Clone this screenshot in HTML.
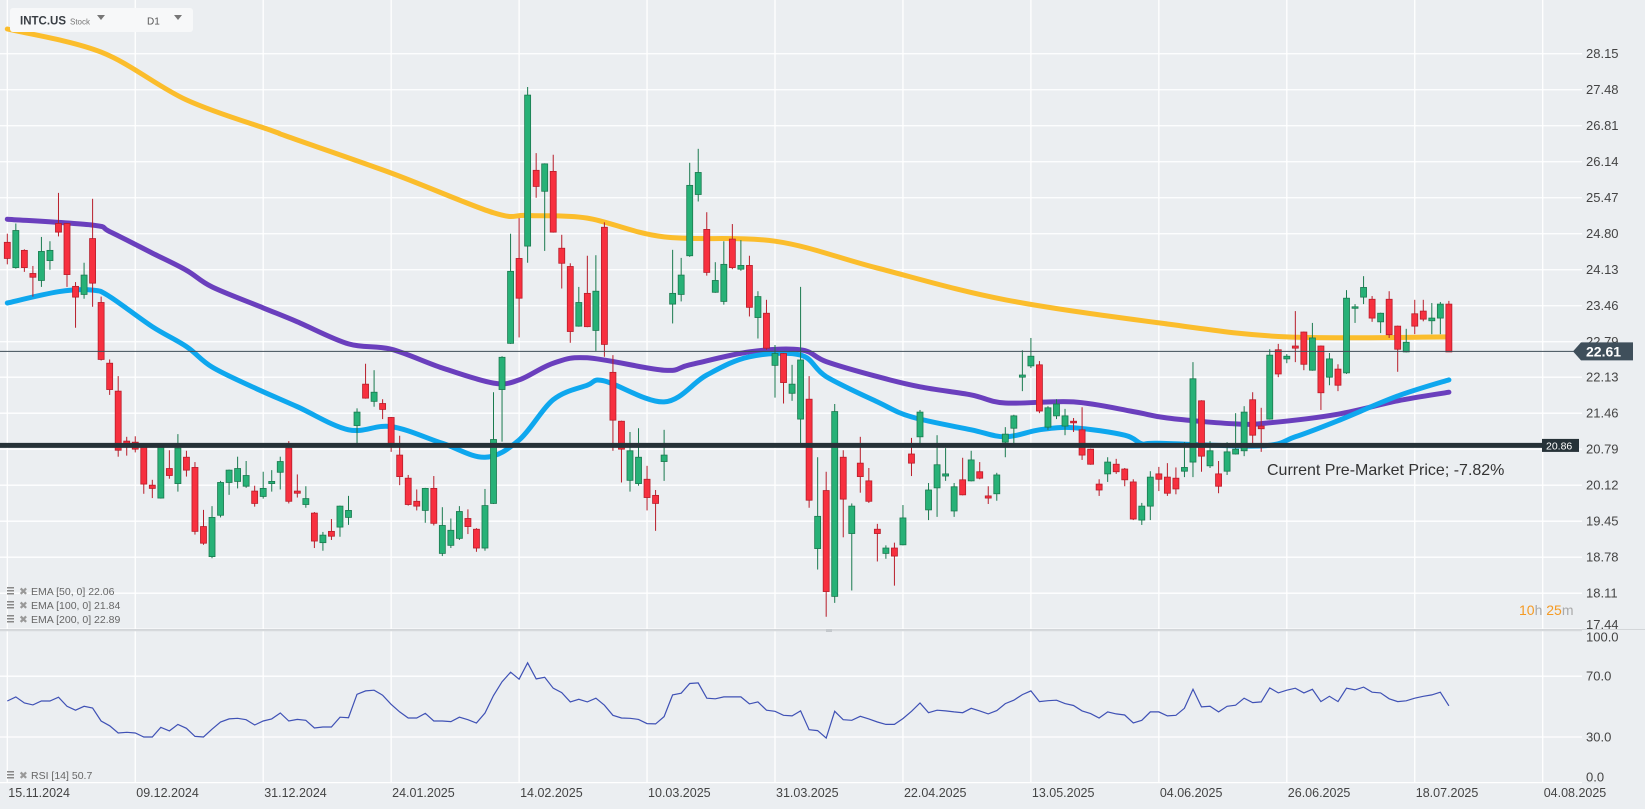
<!DOCTYPE html>
<html><head><meta charset="utf-8"><style>
html,body{margin:0;padding:0;background:#ebeef1;}
svg{display:block;font-family:"Liberation Sans",sans-serif;}
</style></head><body>
<svg id="chart" width="1645" height="809" viewBox="0 0 1645 809" xmlns="http://www.w3.org/2000/svg">
<rect x="0" y="0" width="1645" height="809" fill="#ebeef1"/>
<g id="grid"></g>
<g id="emas"></g>
<g id="candles"></g>
<g id="levels"></g>
<g id="rsi"></g>
<g id="axes"></g>
<g>
<rect x="10" y="8" width="183" height="24" rx="3" fill="#f7f8f9"/>
<text x="20" y="24.5" font-size="11.5" font-weight="bold" fill="#3a3f45">INTC.US</text>
<text x="70" y="24.5" font-size="8" fill="#777">Stock</text>
<path d="M97 15 L105 15 L101 20 Z" fill="#777"/>
<text x="147" y="24.5" font-size="10" fill="#555">D1</text>
<path d="M174 15 L182 15 L178 20 Z" fill="#777"/>
</g>
<g font-size="10.5" fill="#666">
<g><rect x="7" y="587" width="7" height="1.5" fill="#888"/><rect x="7" y="590" width="7" height="1.5" fill="#888"/><rect x="7" y="593" width="7" height="1.5" fill="#888"/><text x="19" y="595" fill="#999">✖</text><text x="31" y="595">EMA [50,  0] 22.06</text></g>
<g><rect x="7" y="601" width="7" height="1.5" fill="#888"/><rect x="7" y="604" width="7" height="1.5" fill="#888"/><rect x="7" y="607" width="7" height="1.5" fill="#888"/><text x="19" y="609" fill="#999">✖</text><text x="31" y="609">EMA [100,  0] 21.84</text></g>
<g><rect x="7" y="615" width="7" height="1.5" fill="#888"/><rect x="7" y="618" width="7" height="1.5" fill="#888"/><rect x="7" y="621" width="7" height="1.5" fill="#888"/><text x="19" y="623" fill="#999">✖</text><text x="31" y="623">EMA [200,  0] 22.89</text></g>
<g><rect x="7" y="771" width="7" height="1.5" fill="#888"/><rect x="7" y="774" width="7" height="1.5" fill="#888"/><rect x="7" y="777" width="7" height="1.5" fill="#888"/><text x="19" y="779" fill="#999">✖</text><text x="31" y="779">RSI [14] 50.7</text></g>
</g>
<text x="1267" y="475" font-size="16" fill="#333">Current Pre-Market Price; -7.82%</text>
<text x="1519" y="615" font-size="14"><tspan fill="#f59a23">10</tspan><tspan fill="#aaa">h </tspan><tspan fill="#f59a23">25</tspan><tspan fill="#aaa">m</tspan></text>
</svg>
<script>
const NS="http://www.w3.org/2000/svg";
// ---- data ----
const candles=[
[24.64,24.80,24.23,24.34],[24.17,24.99,24.15,24.86],[24.49,24.51,24.09,24.17],[24.06,24.20,23.63,23.99],[23.93,24.74,23.81,24.47],
[24.30,24.66,24.13,24.49],[24.99,25.56,24.75,24.83],[24.99,25.00,23.81,24.04],[23.82,23.90,23.05,23.62],[23.67,24.26,23.59,24.03],
[24.71,25.45,23.44,23.88],[23.52,23.63,22.44,22.46],[22.39,22.46,21.80,21.90],[21.87,22.15,20.65,20.77],[20.94,21.02,20.67,20.84],
[20.92,21.03,20.73,20.79],[20.84,20.85,19.96,20.14],[20.12,20.22,19.88,20.06],[19.88,20.85,19.87,20.84],[20.43,20.77,20.24,20.30],
[20.15,21.07,20.00,20.81],[20.64,20.76,20.28,20.40],[20.45,20.55,19.20,19.26],[19.35,19.66,19.01,19.04],[18.79,19.73,18.76,19.52],
[19.56,20.20,19.52,20.17],[20.17,20.41,19.94,20.40],[20.19,20.65,20.06,20.43],[20.10,20.57,20.07,20.30],[20.01,20.11,19.72,19.78],
[19.91,20.37,19.87,20.06],[20.15,20.40,20.00,20.19],[20.36,20.65,20.04,20.56],[20.81,20.94,19.78,19.82],[20.01,20.32,19.89,19.97],
[19.76,20.10,19.70,19.87],[19.60,19.62,18.95,19.08],[19.05,19.25,18.90,19.19],[19.26,19.49,19.10,19.17],[19.34,19.74,19.16,19.73],
[19.52,19.92,19.38,19.65],[21.23,21.55,20.87,21.48],[22.00,22.38,21.73,21.74],[21.68,22.26,21.58,21.85],[21.64,21.72,21.35,21.53],
[21.38,21.39,20.74,20.87],[20.68,21.04,20.12,20.28],[20.25,20.31,19.74,19.76],[19.82,20.04,19.65,19.73],[19.65,20.07,19.42,20.06],
[20.06,20.29,19.37,19.41],[18.85,19.71,18.80,19.37],[19.00,19.50,18.95,19.28],[19.13,19.73,19.10,19.63],[19.50,19.67,19.21,19.35],
[19.30,19.32,18.88,18.95],[18.95,20.05,18.90,19.74],[19.78,21.85,19.77,20.97],[21.90,22.52,20.93,22.50],[22.76,24.80,22.75,24.10],
[24.34,25.09,22.87,23.60],[24.57,27.53,24.26,27.38],[25.98,26.30,25.47,25.68],[25.59,26.11,24.48,26.10],[25.96,26.27,24.82,24.83],
[24.53,24.78,23.78,24.25],[24.19,24.25,22.77,22.98],[23.08,23.81,23.07,23.52],[23.69,24.39,23.06,23.07],[23.00,24.40,22.62,23.73],
[24.92,25.01,22.51,22.74],[22.22,22.54,20.76,21.33],[21.31,21.32,20.17,20.79],[20.21,21.11,20.00,20.76],[20.15,21.18,20.11,20.64],
[20.23,20.48,19.65,19.89],[19.93,20.03,19.27,19.78],[20.56,21.15,20.20,20.68],[23.49,24.50,23.13,23.69],[23.67,24.35,23.54,24.03],
[24.39,26.12,24.37,25.70],[25.53,26.38,25.40,25.94],[24.88,25.20,24.02,24.08],[23.71,24.27,23.70,23.93],[23.54,24.66,23.48,24.23],
[24.70,24.98,24.14,24.17],[24.14,24.68,24.11,24.21],[24.21,24.39,23.26,23.43],[23.24,23.73,22.85,23.63],[23.32,23.57,22.64,22.67],
[22.35,22.73,21.75,22.57],[22.57,22.58,21.64,22.03],[21.83,22.36,21.69,22.00],[21.35,23.81,20.84,22.45],[21.72,22.15,19.70,19.84],
[18.94,20.64,18.55,19.54],[20.02,20.37,17.67,18.14],[18.05,21.63,17.93,21.49],[20.64,20.77,19.15,19.86],[19.22,19.78,18.16,19.73],
[20.53,21.02,19.98,20.28],[20.20,20.44,19.79,19.82],[19.30,19.40,18.70,19.22],[18.85,19.00,18.75,18.95],[18.95,19.05,18.25,18.80],
[19.01,19.75,19.00,19.51],[20.70,21.00,20.29,20.53],[21.02,21.52,20.87,21.48],[19.66,20.16,19.47,20.03],[20.07,21.05,19.53,20.50],
[20.29,20.81,20.20,20.33],[19.64,20.16,19.53,20.09],[20.22,20.63,19.93,19.94],[20.20,20.76,20.19,20.59],[20.37,20.55,20.23,20.25],
[19.92,20.10,19.77,19.88],[19.96,20.35,19.83,20.31],[20.92,21.20,20.64,21.07],[21.18,21.43,20.89,21.41],[22.13,22.63,21.87,22.17],
[22.34,22.86,22.30,22.52],[22.36,22.43,21.46,21.50],[21.20,21.59,21.15,21.56],[21.41,21.72,21.35,21.63],[21.22,21.54,21.05,21.41],
[21.31,21.37,21.11,21.28],[21.15,21.57,20.59,20.68],[20.79,20.80,20.50,20.51],[20.14,20.23,19.92,20.03],[20.33,20.64,20.18,20.55],
[20.51,20.61,20.33,20.37],[20.42,20.44,20.10,20.22],[20.18,20.23,19.47,19.49],[19.47,19.79,19.38,19.73],[19.73,20.38,19.47,20.27],
[20.33,20.46,20.01,20.23],[20.27,20.53,19.92,19.97],[20.25,20.45,19.95,20.05],[20.38,20.92,20.27,20.45],[20.55,22.41,20.27,22.10],
[21.69,21.70,20.37,20.66],[20.48,20.94,20.44,20.76],[20.33,20.57,19.97,20.10],[20.38,20.92,20.31,20.74],[20.70,21.46,20.69,20.79],
[20.76,21.59,20.66,21.48],[21.71,21.85,20.89,21.05],[21.22,21.56,20.74,21.17],[21.35,22.65,21.34,22.54],[22.64,22.75,22.13,22.19],
[22.47,22.56,22.39,22.52],[22.71,23.36,22.41,22.67],[22.97,22.98,22.26,22.37],[22.26,23.14,22.25,22.86],[22.71,22.72,21.52,21.84],
[22.13,22.58,21.98,22.47],[22.28,22.37,21.87,21.98],[22.21,23.75,22.19,23.60],[23.42,23.49,23.14,23.44],[23.62,24.01,23.49,23.80],
[23.58,23.64,23.16,23.23],[23.16,23.33,22.95,23.32],[23.58,23.73,22.86,22.92],[23.08,23.09,22.23,22.65],[22.60,23.03,22.59,22.78],
[23.31,23.57,22.93,23.08],[23.36,23.57,23.17,23.21],[23.18,23.51,22.93,23.23],[23.23,23.53,22.93,23.49],[23.49,23.55,22.60,22.60]
];
const ema50Idx=[0,6,10,12,17,21,24,29,34,40,45,51,56,60,64,68,70,77,82,87,93,96,102,106,113,117,121,125,131,133,135,147,151,156,163,169];
const ema50Vals=[23.51,23.72,23.75,23.63,23.07,22.70,22.32,21.93,21.58,21.15,21.21,20.90,20.64,20.96,21.71,21.98,22.06,21.67,22.17,22.51,22.54,22.14,21.67,21.39,21.15,21.02,21.15,21.19,21.05,20.89,20.90,20.85,21.02,21.32,21.78,22.08];
const ema100Idx=[0,10,12,17,21,24,30,34,40,45,51,57,60,64,68,77,80,87,93,96,102,107,113,117,125,132,136,144,148,156,163,169];
const ema100Vals=[25.07,24.96,24.84,24.44,24.12,23.81,23.42,23.16,22.75,22.65,22.30,22.02,22.08,22.39,22.49,22.26,22.36,22.60,22.64,22.42,22.14,21.95,21.80,21.65,21.67,21.49,21.37,21.26,21.28,21.44,21.69,21.85];
const ema200Idx=[0,11,21,31,33,45,57,61,68,77,90,102,117,136,150,169];
const ema200Vals=[28.61,28.18,27.29,26.72,26.60,25.93,25.19,25.14,25.09,24.74,24.66,24.16,23.57,23.12,22.88,22.88];
const rsiVals=[53.7,56.4,52.4,51.1,53.7,53.7,56.2,50.2,47.6,50.2,49.1,40.5,37.4,32.6,33.1,32.6,30.0,30.0,36.4,34.0,
38.3,35.7,30.4,30.0,35.1,39.9,41.9,42.3,41.4,37.9,40.5,41.9,45.8,40.5,41.6,41.0,35.9,36.6,36.6,43.0,
42.7,58.1,60.3,60.8,57.5,51.5,46.5,42.5,42.5,45.6,40.5,40.5,40.1,43.0,41.4,39.2,45.8,57.3,66.3,72.6,
68.0,78.8,68.2,69.3,62.1,59.2,53.1,54.8,53.1,55.5,50.9,44.3,42.5,42.3,41.6,38.8,38.6,43.4,57.7,58.8,
65.2,65.6,55.5,55.1,56.4,56.4,56.4,51.8,53.1,47.6,46.9,44.3,43.9,47.2,34.8,34.2,29.3,46.9,41.4,41.0,
43.6,41.9,39.9,38.3,38.3,42.1,46.9,52.4,46.0,47.6,47.2,46.5,46.0,48.9,47.2,45.2,47.4,52.0,54.2,57.9,
60.3,53.3,53.9,54.2,52.0,50.7,47.2,45.4,42.5,46.5,45.2,44.5,39.3,41.0,46.5,46.5,43.9,44.3,48.9,61.4,
49.8,50.2,46.5,50.2,50.9,55.5,52.6,53.1,62.3,59.0,60.8,62.1,59.0,61.4,53.3,56.8,53.3,62.1,61.0,62.8,
59.5,59.0,55.1,53.3,53.8,55.5,56.8,57.7,59.5,50.5];
const priceTicks=["28.15","27.48","26.81","26.14","25.47","24.80","24.13","23.46","22.79","22.13","21.46","20.79","20.12","19.45","18.78","18.11","17.44"];
const rsiTicks=[100,70,30,0];
const dateLabels=["15.11.2024","09.12.2024","31.12.2024","24.01.2025","14.02.2025","10.03.2025","31.03.2025","22.04.2025","13.05.2025","04.06.2025","26.06.2025","18.07.2025","04.08.2025"];
const lastPrice=22.61;
const preMarketPrice=20.86;
// ---- scales ----
const xOf=i=>7.3+8.53*i;
const yOf=p=>(29.15-p)/0.018612;
const rsiY=v=>782.6-1.52*v;
function mk(tag,attrs,parent){const e=document.createElementNS(NS,tag);for(const k in attrs)e.setAttribute(k,attrs[k]);parent.appendChild(e);return e;}
const grid=document.getElementById('grid');
dateLabels.forEach((d,k)=>{const x=xOf(15*k);
 const l=mk('line',{x1:x,y1:0,x2:x,y2:783,stroke:'#ffffff','stroke-width':1.3},grid);
 
 
});
priceTicks.forEach(t=>{const y=yOf(parseFloat(t));
 const l=mk('line',{x1:0,y1:y,x2:1582,y2:y,stroke:'#ffffff','stroke-width':1.3},grid);
 
 
});
rsiTicks.forEach(v=>{const y=rsiY(v);
 const l=mk('line',{x1:0,y1:y,x2:1582,y2:y,stroke:v===100?'#d6d9dc':'#ffffff','stroke-width':1.3},grid);
 
 
});
const sep=mk('line',{x1:0,y1:629.5,x2:1645,y2:629.5,stroke:'#d3d6d9','stroke-width':1},grid);


// EMAs (smoothed through sampled values)
const emaG=document.getElementById('emas');
function emaPath(idx,vals,color,name){
 const pts=idx.map((i,k)=>[xOf(i),yOf(vals[k])]);
 let d='M'+pts[0][0].toFixed(1)+' '+pts[0][1].toFixed(1);
 for(let k=0;k<pts.length-1;k++){
  const p0=pts[Math.max(0,k-1)],p1=pts[k],p2=pts[k+1],p3=pts[Math.min(pts.length-1,k+2)];
  const c1=[p1[0]+(p2[0]-p0[0])/6,p1[1]+(p2[1]-p0[1])/6];
  const c2=[p2[0]-(p3[0]-p1[0])/6,p2[1]-(p3[1]-p1[1])/6];
  d+=`C${c1[0].toFixed(1)} ${c1[1].toFixed(1)} ${c2[0].toFixed(1)} ${c2[1].toFixed(1)} ${p2[0].toFixed(1)} ${p2[1].toFixed(1)}`;
 }
 const p=mk('path',{d:d,fill:'none',stroke:color,'stroke-width':5,'stroke-linejoin':'round','stroke-linecap':'round'},emaG);
 
 
}
emaPath(ema200Idx,ema200Vals,'#fbbd2c','ema200-line');
emaPath(ema100Idx,ema100Vals,'#6a3fbd','ema100-line');
emaPath(ema50Idx,ema50Vals,'#0ea7ee','ema50-line');
// candles
const cg=document.getElementById('candles');
candles.forEach((c,i)=>{
 const [o,h,l,cl]=c;const up=cl>=o;const x=xOf(i);
 const fill=up?'#27b177':'#f7303f';const st=up?'#1a7a4f':'#b81d2a';
 const g=mk('g',{},cg);
 
 
 mk('line',{x1:x,y1:yOf(h),x2:x,y2:yOf(l),stroke:st,'stroke-width':1},g);
 const top=yOf(Math.max(o,cl));const bh=Math.max(1.5,yOf(Math.min(o,cl))-top);
 mk('rect',{x:x-3,y:top,width:6,height:bh,fill:fill,stroke:st,'stroke-width':0.8},g);
});
// levels
const lv=document.getElementById('levels');
const yl=yOf(lastPrice);
const ll=mk('line',{x1:0,y1:yl,x2:1575,y2:yl,stroke:'#3e4d57','stroke-width':1},lv);


const yp=yOf(preMarketPrice);
const pl=mk('line',{x1:0,y1:yp,x2:1542,y2:yp,stroke:'#263238','stroke-width':5},lv);


// RSI
const rg=document.getElementById('rsi');
let rd='';rsiVals.forEach((v,i)=>{rd+=(i?'L':'M')+xOf(i).toFixed(1)+' '+rsiY(v).toFixed(1);});
const rp=mk('path',{d:rd,fill:'none',stroke:'#3f51b5','stroke-width':1.2},rg);


const mkr=mk('rect',{x:826,y:629,width:6,height:3,fill:'#c4c8cc'},rg);


// axes
const ax=document.getElementById('axes');
priceTicks.forEach(t=>{
 const v=parseFloat(t);
 const tx=mk('text',{x:1586,y:yOf(v)+(v<17.5?0:4.5),'font-size':13,fill:'#444'},ax);
 tx.textContent=t;
 
 
});
rsiTicks.forEach(v=>{
 const tx=mk('text',{x:1586,y:rsiY(v)+(v===100?11:v===0?-1:4.5),'font-size':13,fill:'#444'},ax);
 tx.textContent=v.toFixed(1);
 
 
});
dateLabels.forEach((d,k)=>{
 const tx=mk('text',{x:xOf(15*k)+1,y:797,'font-size':12.5,fill:'#444'},ax);
 tx.textContent=d;
 
 
});
const b1=mk('g',{},ax);


mk('path',{d:`M1573 ${yl} L1581 ${yl-9} L1633 ${yl-9} L1633 ${yl+9} L1581 ${yl+9} Z`,fill:'#3f4f5b'},b1);
const t1=mk('text',{x:1586,y:yl+5,'font-size':14,'font-weight':'bold',fill:'#fff'},b1);t1.textContent=lastPrice.toFixed(2);
const b2=mk('g',{},ax);


mk('rect',{x:1542,y:yp-6.5,width:37,height:13,fill:'#263238'},b2);
const t2=mk('text',{x:1546,y:yp+4,'font-size':10.5,fill:'#fff'},b2);t2.textContent=preMarketPrice.toFixed(2);
</script>
</body></html>
